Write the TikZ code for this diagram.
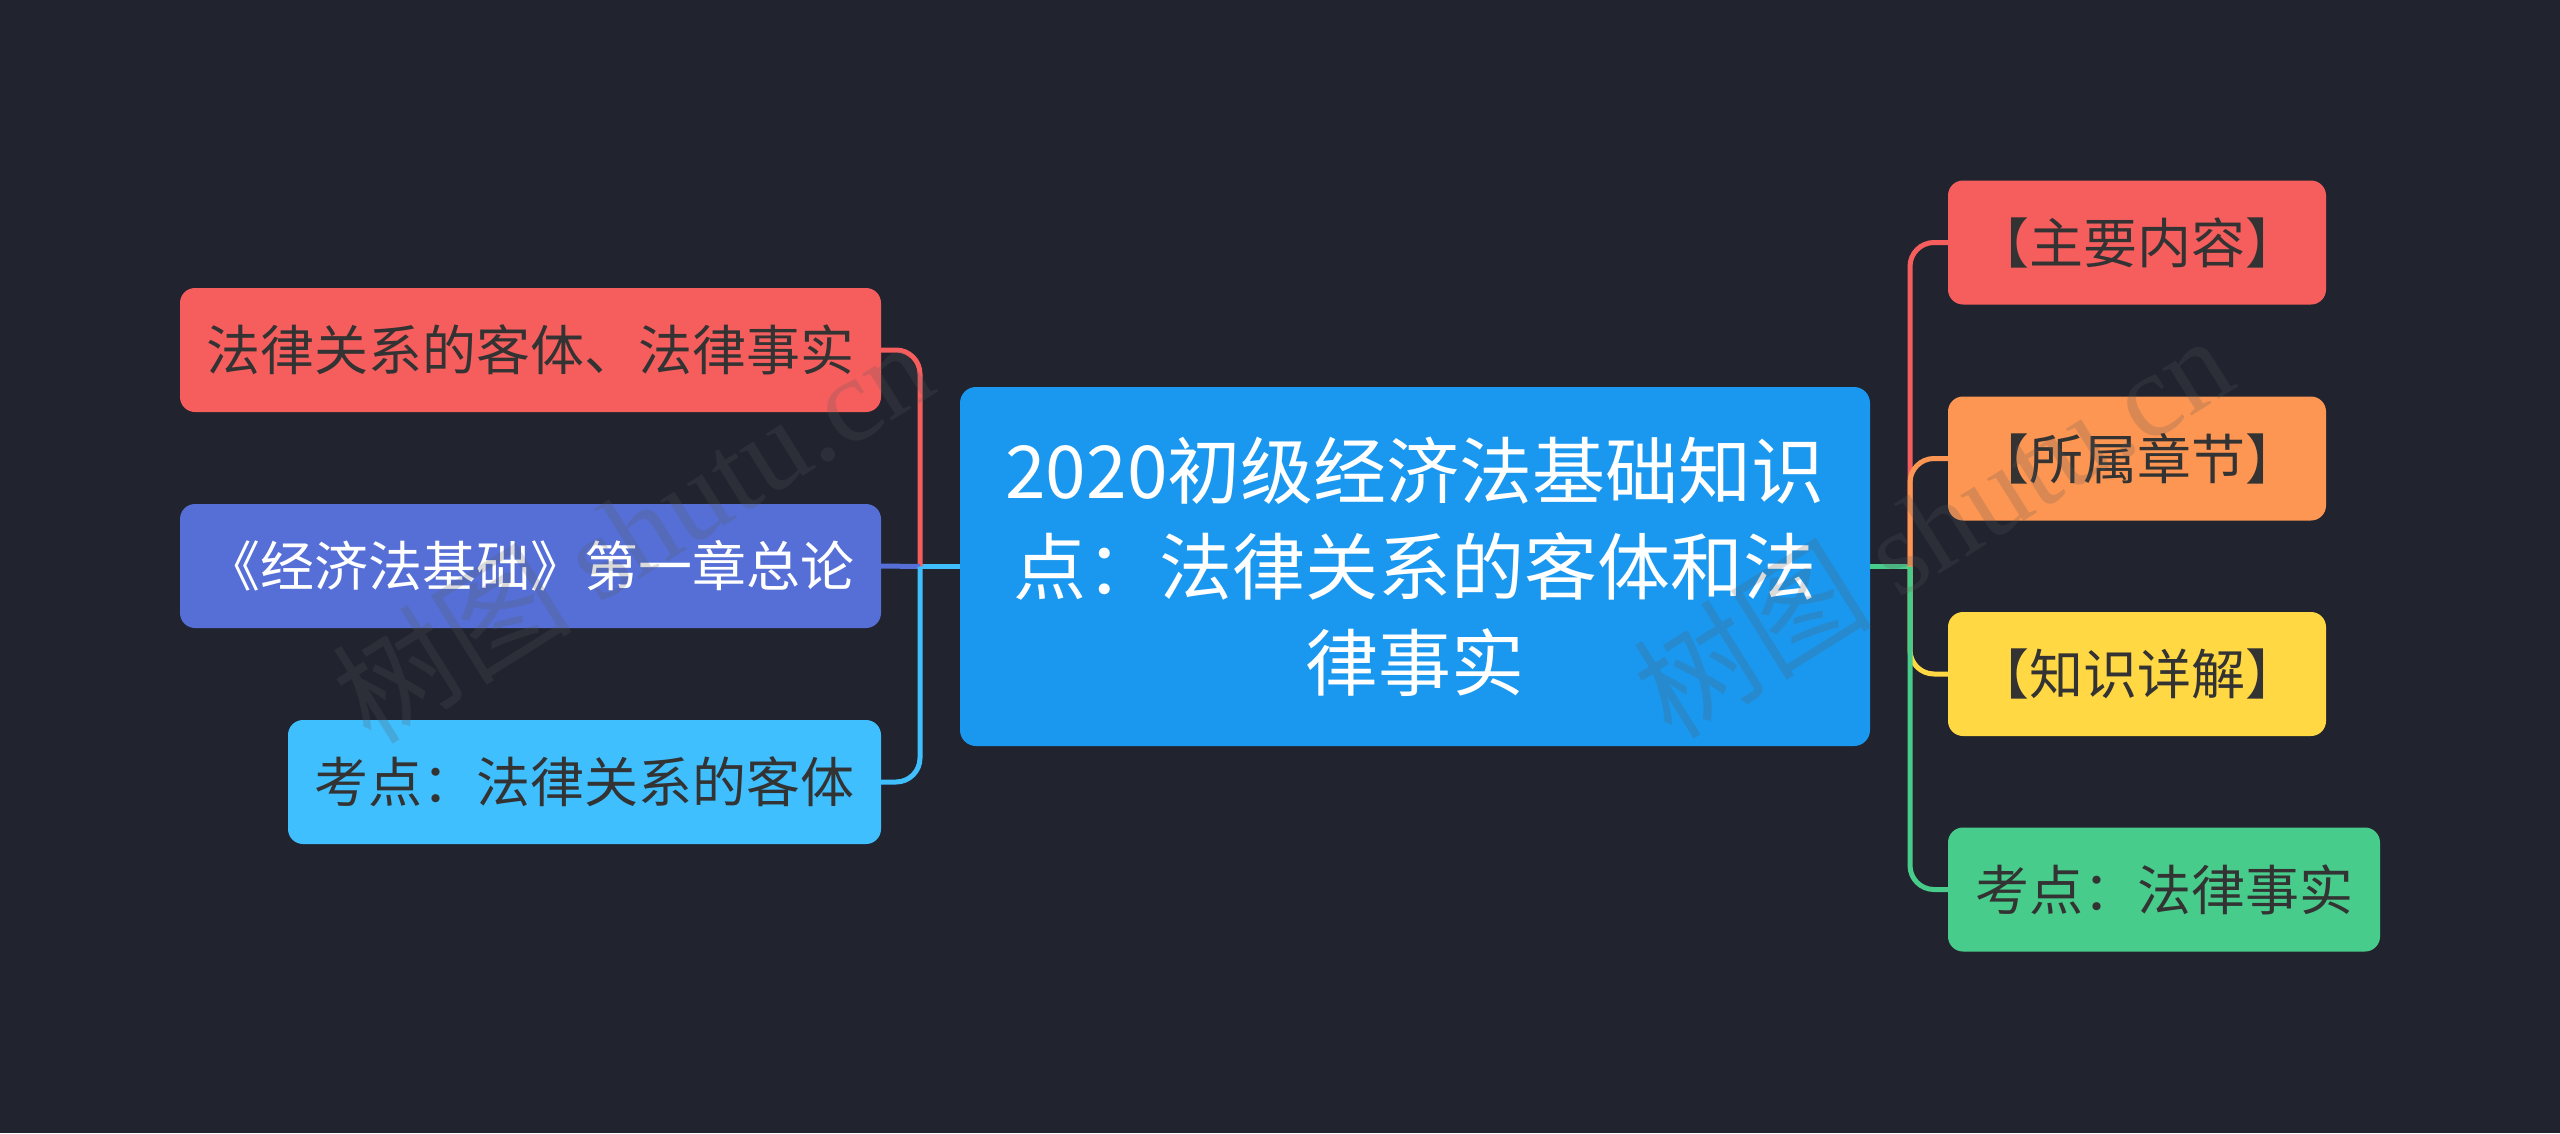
\documentclass[tikz,border=0pt]{standalone}
\usepackage{fontspec}
\newfontfamily\cjk{Noto Sans CJK SC}
\newfontfamily\wmlatin{Liberation Serif}
\definecolor{bg}{HTML}{21242F}
\definecolor{cRed}{HTML}{F65E5E}
\definecolor{cOrange}{HTML}{FD9652}
\definecolor{cYellow}{HTML}{FFD844}
\definecolor{cGreen}{HTML}{48CC8B}
\definecolor{cIndigo}{HTML}{556FD6}
\definecolor{cSky}{HTML}{40BFFF}
\definecolor{cBlue}{HTML}{1A98EF}
\definecolor{txtdark}{HTML}{333333}
\definecolor{wm}{HTML}{5A5A5A}
\begin{document}
\begin{tikzpicture}[x=1pt,y=-1pt,
  box/.style={rounded corners=15pt, inner sep=0pt, align=center,
    minimum height=124pt, font=\cjk\fontsize{54}{64}\selectfont, text=txtdark},
  centrebox/.style={rounded corners=16pt, inner sep=0pt, align=center,
    fill=cBlue, text=white, minimum width=910pt, minimum height=359pt,
    font=\cjk\fontsize{73}{96}\selectfont},
  conn/.style={line width=5pt, rounded corners=24pt},
  wmark/.style={rotate=32, text=wm, opacity=0.22, inner sep=0pt}]
\fill[bg] (0,0) rectangle (2560,1133);
\useasboundingbox (0,0) rectangle (2560,1133);

% centre
\node[centrebox] (c) at (1415,566.5) {2020初级经济法基础知识\\点：法律关系的客体和法\\律事实};

% left nodes
\node[box, fill=cRed, minimum width=701pt] (l1) at (530.5,350) {法律关系的客体、法律事实};
\node[box, fill=cIndigo, text=white, minimum width=701pt] (l2) at (530.5,566) {《经济法基础》第一章总论};
\node[box, fill=cSky, minimum width=593pt] (l3) at (584.5,782) {考点：法律关系的客体};

% right nodes
\node[box, fill=cRed, minimum width=378pt] (r1) at (2137,242.5) {【主要内容】};
\node[box, fill=cOrange, minimum width=378pt] (r2) at (2137,458.5) {【所属章节】};
\node[box, fill=cYellow, minimum width=378pt] (r3) at (2137,674) {【知识详解】};
\node[box, fill=cGreen, minimum width=432pt] (r4) at (2164,889.5) {考点：法律事实};

% junctions
\coordinate (jl) at (920,566.5);
\coordinate (jr) at (1910,566.5);

% left connectors
\draw[line width=5pt, cSky] (c.west) -- (jl);
\draw[conn, cRed] (jl) -- (jl |- l1.east) -- (l1.east);
\draw[conn, cIndigo] (jl) -- (l2.east);
\draw[conn, cSky] (jl) -- (jl |- l3.east) -- (l3.east);

% right connectors
\draw[line width=5pt, cGreen] (c.east) -- (jr);
\draw[conn, cRed] (jr) -- (jr |- r1.west) -- (r1.west);
\draw[conn, cOrange] (jr) -- (jr |- r2.west) -- (r2.west);
\draw[conn, cYellow] (jr) -- (jr |- r3.west) -- (r3.west);
\draw[conn, cGreen] (jr) -- (jr |- r4.west) -- (r4.west);

% watermarks
\node[wmark] (w1) at (632,530) {\cjk\fontsize{120}{120}\selectfont 树图 \wmlatin shutu.cn};
\node[wmark] (w2) at (1932,525) {\cjk\fontsize{120}{120}\selectfont 树图 \wmlatin shutu.cn};
\end{tikzpicture}
\end{document}
